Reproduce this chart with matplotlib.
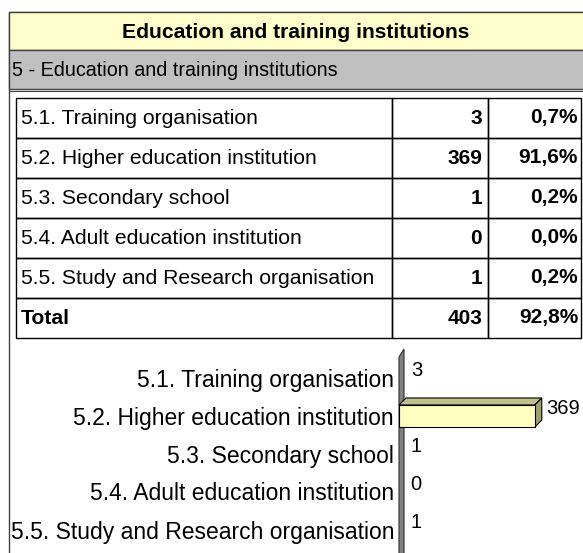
import matplotlib
matplotlib.use('Agg')
import matplotlib.pyplot as plt
from matplotlib.patches import Rectangle, Polygon

plt.rcParams['font.family'] = ['Liberation Sans', 'DejaVu Sans']

title = 'Education and training institutions'
section = '5 - Education and training institutions'
categories = ['5.1. Training organisation', '5.2. Higher education institution',
              '5.3. Secondary school', '5.4. Adult education institution',
              '5.5. Study and Research organisation']
counts = [3, 369, 1, 0, 1]
shares = ['0,7%', '91,6%', '0,2%', '0,0%', '0,2%']
total_label = 'Total'
total_count = 403
total_share = '92,8%'

W, H = 583, 553
fig = plt.figure(figsize=(W / 100, H / 100), dpi=100)
ax = fig.add_axes([0, 0, 1, 1])
ax.set_xlim(0, W)
ax.set_ylim(H, 0)
ax.axis('off')

# outer frame + header bands
ax.add_patch(Rectangle((9, 12), 600, 600, facecolor='white', edgecolor='#404040', lw=1))
ax.add_patch(Rectangle((9, 12), 600, 38, facecolor='#FFFFCC', edgecolor='#404040', lw=1))
ax.add_patch(Rectangle((9, 50), 600, 39, facecolor='#C0C0C0', edgecolor='#404040', lw=1))
ax.plot([9, 600], [91, 91], color='#404040', lw=0.8)
ax.text(296, 32, title, ha='center', va='center', fontsize=15.2, fontweight='bold')
ax.text(12, 70, section, ha='left', va='center', fontsize=14.2)

# table
xs = [16, 392, 488, 581]
row_h = 40
top = 98
rows = list(zip(categories, counts, shares)) + [(total_label, total_count, total_share)]
for i, (lab, n, s) in enumerate(rows):
    y0 = top + i * row_h
    for j in range(3):
        ax.add_patch(Rectangle((xs[j], y0), xs[j + 1] - xs[j], row_h,
                               facecolor='none', edgecolor='black', lw=1))
    yc = y0 + row_h / 2
    bold = 'bold' if lab == total_label else 'normal'
    ax.text(xs[0] + 5, yc, lab, ha='left', va='center', fontsize=15.2, fontweight=bold)
    ax.text(xs[2] - 6, yc, str(n), ha='right', va='center', fontsize=15, fontweight='bold')
    ax.text(xs[3] - 3, yc, s, ha='right', va='center', fontsize=15, fontweight='bold')

# bar chart
left_px, right_px = 399, 583
pitch = 38
top_px = 359
bot_px = top_px + pitch * len(categories)
ax2 = fig.add_axes([left_px / W, 1 - bot_px / H, (right_px - left_px) / W, (bot_px - top_px) / H])
ax2.set_xlim(0, 500)
ax2.set_ylim(len(categories) - 0.5, -0.5)
ax2.axis('off')
ypos = range(len(categories))
bars = ax2.barh(ypos, counts, height=0.58, color='#FFFFC0', edgecolor='black', lw=0.8, zorder=3)

to_px = ax2.transData
from_px = ax.transData.inverted()
d = 7  # depth in pixels


def px(x, y):
    return to_px.transform((x, y))


# wall
wt = px(0, -0.5)
wall = [(wt[0], -50), (wt[0], wt[1] + 2), (wt[0] + 5, wt[1] + 10), (wt[0] + 5, -50)]
ax.add_patch(Polygon(from_px.transform(wall), closed=True, facecolor='#808080',
                     edgecolor='#303030', lw=0.8, zorder=2))

for b, n in zip(bars, counts):
    x1 = b.get_width()
    yt = b.get_y()
    yb = b.get_y() + b.get_height()
    p0, p1 = px(0, yt), px(x1, yt)
    q1 = px(x1, yb)
    if p1[0] - p0[0] > 2:
        topf = [p0, p1, (p1[0] + d, p1[1] + d), (p0[0] + d, p0[1] + d)]
        side = [p1, q1, (q1[0] + d, q1[1] + d), (p1[0] + d, p1[1] + d)]
        ax.add_patch(Polygon(from_px.transform(topf), closed=True, facecolor='#C0C08C',
                             edgecolor='black', lw=0.8, zorder=4))
        ax.add_patch(Polygon(from_px.transform(side), closed=True, facecolor='#A0A070',
                             edgecolor='black', lw=0.8, zorder=4))
    else:
        b.set_visible(False)
    lp = from_px.transform([(p1[0] + d + 4, (p1[1] + q1[1]) / 2 + 7)])[0]
    ax.text(lp[0], lp[1], str(n), ha='left', va='center', fontsize=14.5, zorder=5)

for i, lab in enumerate(categories):
    c = from_px.transform([px(0, i)])[0]
    ax.text(c[0] - 5, c[1] + 2, lab, ha='right', va='center', fontsize=16.5)

fig.savefig('out.png', dpi=100)
